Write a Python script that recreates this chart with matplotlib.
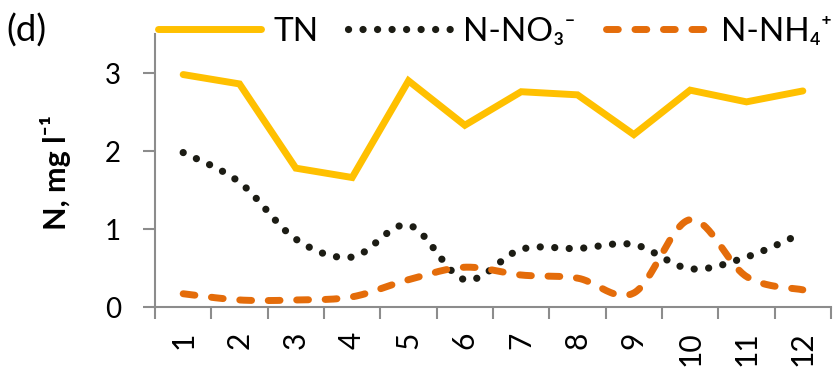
import numpy as np
import matplotlib
matplotlib.use("Agg")
import matplotlib.pyplot as plt

plt.rcParams['font.family'] = ['Lato', 'DejaVu Sans']

months = [1, 2, 3, 4, 5, 6, 7, 8, 9, 10, 11, 12]
month_labels = [str(m) for m in months]
tn = [2.98, 2.86, 1.78, 1.66, 2.90, 2.33, 2.76, 2.72, 2.21, 2.78, 2.63, 2.77]
no3 = [1.98, 1.60, 0.87, 0.64, 1.05, 0.35, 0.74, 0.75, 0.80, 0.49, 0.64, 0.95]
nh4 = [0.17, 0.09, 0.09, 0.13, 0.35, 0.51, 0.41, 0.37, 0.18, 1.12, 0.39, 0.22]

C_TN = '#FFC000'
C_NO3 = '#1C1C14'
C_NH4 = '#E46C0A'
AXIS_GREY = '#8C8C8C'


def smooth(x, y, n=40):
    """Cubic Bezier smoothing through every point (spreadsheet-style)."""
    x = np.asarray(x, float)
    y = np.asarray(y, float)
    px = np.concatenate([[x[0]], x, [x[-1]]])
    py = np.concatenate([[y[0]], y, [y[-1]]])
    xs, ys = [], []
    t = np.linspace(0, 1, n)
    for i in range(len(x) - 1):
        p0 = np.array([px[i + 1], py[i + 1]])
        p3 = np.array([px[i + 2], py[i + 2]])
        c1 = p0 + (np.array([px[i + 2], py[i + 2]]) - np.array([px[i], py[i]])) / 6
        c2 = p3 - (np.array([px[i + 3], py[i + 3]]) - np.array([px[i + 1], py[i + 1]])) / 6
        b = ((1 - t) ** 3)[:, None] * p0 + (3 * (1 - t) ** 2 * t)[:, None] * c1 \
            + (3 * (1 - t) * t ** 2)[:, None] * c2 + (t ** 3)[:, None] * p3
        if i > 0:
            b = b[1:]
        xs.append(b[:, 0])
        ys.append(b[:, 1])
    return np.concatenate(xs), np.concatenate(ys)


fig = plt.figure(figsize=(8.37, 3.70), dpi=100)
ax = fig.add_axes([155 / 837, 63 / 370, 676 / 837, 273 / 370])

ax.plot(months, tn, color=C_TN, lw=5.0, solid_capstyle='round',
        solid_joinstyle='miter', label='TN')
sx, sy = smooth(months, no3)
ax.plot(sx, sy, color=C_NO3, lw=5.2, linestyle=(0, (0.01, 2.0)),
        dash_capstyle='round', label='N-NO\u2083\u207B')
sx, sy = smooth(months, nh4)
ax.plot(sx, sy, color=C_NH4, lw=5.0, linestyle=(0, (1.7, 2.4)),
        dash_capstyle='round', label='N-NH\u2084\u207A')

ax.set_xlim(0.5, 12.5)
ax.set_ylim(0, 3.5)

ax.set_xticks(np.arange(0.5, 13.0, 1.0))
ax.set_xticklabels([])
ax.set_xticks(months, minor=True)
ax.set_xticklabels(month_labels, minor=True, rotation=90, fontsize=21.5,
                   va='top', ha='center')
ax.tick_params(axis='x', which='major', direction='out', length=8.5,
               width=1.5, color=AXIS_GREY)
ax.tick_params(axis='x', which='minor', length=0, pad=17.5)

ax.set_yticks([0, 1, 2, 3])
ax.set_yticklabels(['0', '1', '2', '3'], fontsize=20)
ax.tick_params(axis='y', direction='out', length=8.5, width=1.5,
               color=AXIS_GREY, pad=16)

for side in ('top', 'right'):
    ax.spines[side].set_visible(False)
for side in ('left', 'bottom'):
    ax.spines[side].set_color(AXIS_GREY)
    ax.spines[side].set_linewidth(1.5)

fig.text(56 / 837, 1 - 173 / 370, 'N, mg l\u207B\u00B9', rotation=90,
         fontsize=22, fontweight='bold', ha='center', va='center')
fig.text(6 / 837, 1 - 31 / 370, '(d)', fontsize=26.5, ha='left', va='center')

fig.legend(loc='center', bbox_to_anchor=(495 / 837, 1 - 32 / 370), ncol=3,
           frameon=False, fontsize=24, handlelength=3.1, handletextpad=0.35,
           columnspacing=0.9, borderpad=0, borderaxespad=0)

fig.savefig('out.png', dpi=100)
